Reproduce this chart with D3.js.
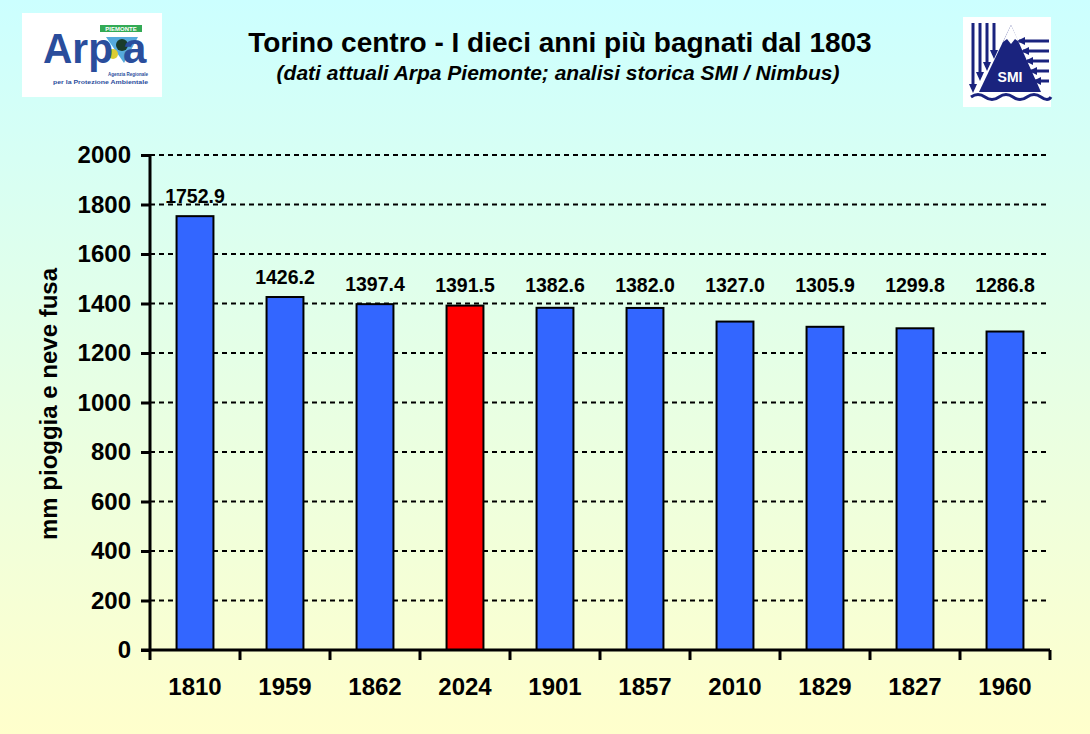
<!DOCTYPE html>
<html lang="it">
<head>
<meta charset="utf-8">
<title>Torino centro - I dieci anni più bagnati dal 1803</title>
<style>
body { margin: 0; padding: 0; }
svg { display: block; font-family: Arial, "Liberation Sans", sans-serif; }
</style>
</head>
<body>
<div id="chart"></div>
<script src="https://cdn.jsdelivr.net/npm/d3@7"></script>
<script>

// data
var years = ["1810", "1959", "1862", "2024", "1901", "1857", "2010", "1829", "1827", "1960"];
var rainfall = [1752.9, 1426.2, 1397.4, 1391.5, 1382.6, 1382.0, 1327.0, 1305.9, 1299.8, 1286.8];
var highlightYear = "2024";
var yTicks = [0, 200, 400, 600, 800, 1000, 1200, 1400, 1600, 1800, 2000];
var labelFloor = 1395; // value labels never sit lower than this level

var width = 1090, height = 734;
var margin = {top: 155, right: 40, bottom: 84, left: 150};

var svg = d3.select("#chart").append("svg")
  .attr("width", width)
  .attr("height", height);

// background gradient, cyan to pale yellow
var grad = svg.append("defs").append("linearGradient")
  .attr("id", "bg").attr("x1", 0).attr("y1", 0).attr("x2", 0).attr("y2", 1);
grad.append("stop").attr("offset", "0%").attr("stop-color", "#ccffff");
grad.append("stop").attr("offset", "100%").attr("stop-color", "#ffffcc");
svg.append("rect").attr("width", width).attr("height", height).attr("fill", "url(#bg)");

// titles
svg.append("text")
  .attr("x", 560).attr("y", 52)
  .attr("text-anchor", "middle")
  .style("font-size", "28px").style("font-weight", "bold")
  .text("Torino centro - I dieci anni più bagnati dal 1803");
svg.append("text")
  .attr("x", 558).attr("y", 80)
  .attr("text-anchor", "middle")
  .style("font-size", "21px").style("font-weight", "bold").style("font-style", "italic")
  .text("(dati attuali Arpa Piemonte; analisi storica SMI / Nimbus)");

// Arpa logo (simplified)
var arpa = svg.append("g").attr("transform", "translate(22,13)");
arpa.append("rect").attr("width", 140).attr("height", 84).attr("fill", "#ffffff");
arpa.append("rect").attr("x", 78).attr("y", 12).attr("width", 42).attr("height", 7).attr("fill", "#33aa55");
arpa.append("text").attr("x", 99).attr("y", 18).attr("text-anchor", "middle")
  .style("font-size", "6px").style("font-weight", "bold").attr("fill", "#ffffff").text("PIEMONTE");
arpa.append("path").attr("d", "M84,24 L116,24 L102,50 Z").attr("fill", "#55aadd");
arpa.append("circle").attr("cx", 100).attr("cy", 32).attr("r", 6).attr("fill", "#1a3d2a");
arpa.append("circle").attr("cx", 91).attr("cy", 41).attr("r", 5).attr("fill", "#ddcc33");
arpa.append("text").attr("x", 21).attr("y", 50)
  .style("font-size", "42px").style("font-weight", "bold").attr("fill", "#2a4d9c")
  .attr("textLength", 70).attr("lengthAdjust", "spacingAndGlyphs").text("Arp");
arpa.append("text").attr("x", 101).attr("y", 50)
  .style("font-size", "42px").style("font-weight", "bold").attr("fill", "#2a4d9c").text("a");
arpa.append("text").attr("x", 126).attr("y", 63).attr("text-anchor", "end")
  .style("font-size", "6px").style("font-weight", "bold").attr("fill", "#2a4d9c")
  .attr("textLength", 40).attr("lengthAdjust", "spacingAndGlyphs").text("Agenzia Regionale");
arpa.append("text").attr("x", 126).attr("y", 71).attr("text-anchor", "end")
  .style("font-size", "6px").style("font-weight", "bold").attr("fill", "#2a4d9c")
  .attr("textLength", 95).attr("lengthAdjust", "spacingAndGlyphs").text("per la Protezione Ambientale");

// SMI logo (simplified)
var smi = svg.append("g").attr("transform", "translate(963,17)");
smi.append("rect").attr("width", 88).attr("height", 90).attr("fill", "#ffffff");
smi.append("path").attr("d", "M48,8 L78,75 L16,75 Z").attr("fill", "#1a237e");
smi.append("path").attr("d", "M40,25 L48,8 L56,25 L52,22 L48,27 L44,22 Z").attr("fill", "#ffffff");
[[10, 72], [17, 60], [24, 50], [31, 38]].forEach(function(d) {
  smi.append("line").attr("x1", d[0]).attr("y1", 6).attr("x2", d[0]).attr("y2", d[1])
    .attr("stroke", "#1a237e").attr("stroke-width", 3);
  smi.append("path").attr("d", "M" + (d[0] - 4) + "," + (d[1] - 5) + " L" + d[0] + "," + (d[1] + 4) + " L" + (d[0] + 4) + "," + (d[1] - 5) + " Z")
    .attr("fill", "#1a237e");
});
[24, 34, 44, 54, 64].forEach(function(y, i) {
  var x0 = 56 + i * 4;
  smi.append("line").attr("x1", x0).attr("y1", y).attr("x2", 86).attr("y2", y)
    .attr("stroke", "#1a237e").attr("stroke-width", 3);
  smi.append("path").attr("d", "M" + (x0 + 6) + "," + (y - 4) + " L" + (x0 - 2) + "," + y + " L" + (x0 + 6) + "," + (y + 4) + " Z")
    .attr("fill", "#1a237e");
});
smi.append("path").attr("d", "M8,80 q7,-5 14,0 t14,0 t14,0 t14,0 t14,0 t10,0")
  .attr("fill", "none").attr("stroke", "#1a237e").attr("stroke-width", 3);
smi.append("text").attr("x", 47).attr("y", 65).attr("text-anchor", "middle")
  .style("font-size", "14px").style("font-weight", "bold").attr("fill", "#ffffff").text("SMI");

// scales
var x = d3.scaleBand()
  .domain(years)
  .range([margin.left, width - margin.right])
  .paddingInner(0.59).paddingOuter(0.295);

var y = d3.scaleLinear()
  .domain([0, 2000])
  .range([height - margin.bottom, margin.top]);

// dashed gridlines
svg.append("g")
  .selectAll("line")
  .data(yTicks.filter(function(d) { return d > 0; }))
  .enter().append("line")
  .attr("x1", margin.left).attr("x2", width - margin.right - 2)
  .attr("y1", function(d) { return y(d); })
  .attr("y2", function(d) { return y(d); })
  .attr("stroke", "#000").attr("stroke-width", 2)
  .attr("stroke-dasharray", "5,4");

// bars
svg.append("g")
  .selectAll("rect")
  .data(years)
  .enter().append("rect")
  .attr("x", function(d) { return x(d); })
  .attr("width", x.bandwidth())
  .attr("y", function(d, i) { return y(rainfall[i]); })
  .attr("height", function(d, i) { return y(0) - y(rainfall[i]); })
  .attr("fill", function(d) { return d == highlightYear ? "#ff0000" : "#3366ff"; })
  .attr("stroke", "#000").attr("stroke-width", 2);

// value labels
svg.append("g")
  .selectAll("text")
  .data(years)
  .enter().append("text")
  .attr("x", function(d) { return x(d) + x.bandwidth() / 2; })
  .attr("y", function(d, i) { return y(Math.max(rainfall[i], labelFloor)) - 13; })
  .attr("text-anchor", "middle")
  .style("font-size", "19.5px").style("font-weight", "bold")
  .text(function(d, i) { return rainfall[i].toFixed(1); });

// y axis
var yAxis = svg.append("g")
  .attr("transform", "translate(" + margin.left + ",0)")
  .call(d3.axisLeft(y).tickValues(yTicks).tickSize(9).tickPadding(10).tickFormat(d3.format("d")));
yAxis.selectAll("path, line").attr("stroke", "#000").attr("stroke-width", 3);
yAxis.select(".domain").attr("d", "M0," + (y(0) + 10) + "V" + y(2000));
yAxis.selectAll("text")
  .attr("fill", "#000")
  .style("font-size", "24px").style("font-weight", "bold")
  .style("font-family", "Arial, 'Liberation Sans', sans-serif");

// x axis: ticks on band boundaries
var xAxis = svg.append("g").attr("transform", "translate(0," + y(0) + ")");
xAxis.append("line")
  .attr("x1", margin.left - 9).attr("x2", width - margin.right)
  .attr("stroke", "#000").attr("stroke-width", 3);
xAxis.selectAll("line.tick")
  .data(years)
  .enter().append("line")
  .attr("class", "tick")
  .attr("x1", function(d) { return x(d) + x.bandwidth() / 2 + x.step() / 2; })
  .attr("x2", function(d) { return x(d) + x.bandwidth() / 2 + x.step() / 2; })
  .attr("y1", 0).attr("y2", 10)
  .attr("stroke", "#000").attr("stroke-width", 3);
xAxis.selectAll("text")
  .data(years)
  .enter().append("text")
  .attr("x", function(d) { return x(d) + x.bandwidth() / 2; })
  .attr("y", 45)
  .attr("text-anchor", "middle")
  .style("font-size", "24px").style("font-weight", "bold")
  .text(function(d) { return d; });

// y axis title
svg.append("text")
  .attr("transform", "translate(57,404) rotate(-90)")
  .attr("text-anchor", "middle")
  .style("font-size", "24px").style("font-weight", "bold")
  .text("mm pioggia e neve fusa");

</script>
</body>
</html>
